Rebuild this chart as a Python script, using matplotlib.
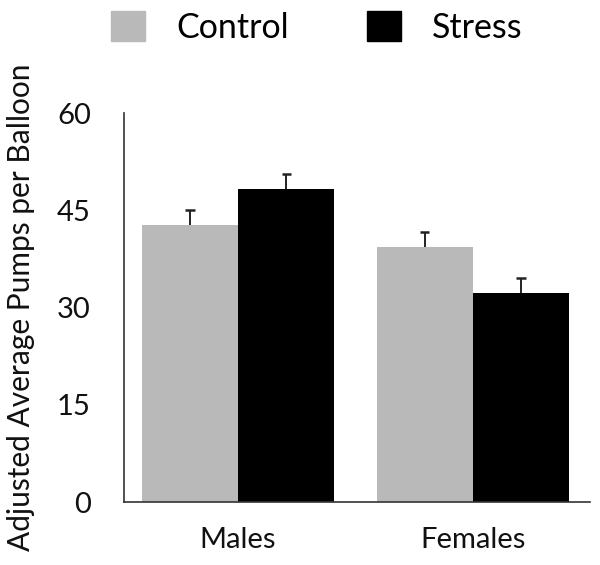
import numpy as np
import matplotlib
matplotlib.use("Agg")
import matplotlib.pyplot as plt
from matplotlib.patches import Patch

plt.rcParams["font.family"] = ["Lato", "DejaVu Sans"]

# Data
groups = ["Males", "Females"]
control = [42.7, 39.4]
stress = [48.3, 32.3]
control_err = [2.3, 2.3]
stress_err = [2.3, 2.3]
yticks = [0, 15, 30, 45, 60]

fig = plt.figure(figsize=(6, 5.65), dpi=100)
ax = fig.add_axes([0.207, 0.1115, 0.776, 0.6885])

x = np.arange(len(groups))
w = 0.41
ax.bar(x - w / 2, control, w, color="#b9b9b9")
ax.bar(x + w / 2, stress, w, color="black")

# upper-only error bars with a single cap
for pos, vals, errs in [(x - w / 2, control, control_err), (x + w / 2, stress, stress_err)]:
    tops = np.array(vals) + np.array(errs)
    ax.vlines(pos, vals, tops, color="#222222", lw=1.4, zorder=3)
    ax.hlines(tops, pos - 0.02, pos + 0.02, color="#222222", lw=1.8, zorder=3)

ax.set_xlim(-0.485, 1.498)
ax.set_ylim(0, 60)
ax.set_yticks(yticks)
ax.set_xticks(x)
ax.set_xticklabels(groups)
ax.tick_params(axis="both", length=0, labelsize=21, colors="#111111")
ax.tick_params(axis="y", pad=24)
ax.tick_params(axis="x", pad=18)
for s in ["top", "right"]:
    ax.spines[s].set_visible(False)
for s in ["left", "bottom"]:
    ax.spines[s].set_color("#333333")
    ax.spines[s].set_linewidth(1.2)

ax.set_ylabel("Adjusted Average Pumps per Balloon", fontsize=21.5,
              color="#111111", labelpad=16)

handles = [Patch(color="#b9b9b9"), Patch(color="black")]
fig.legend(handles, ["Control", "Stress"], loc="upper center",
           bbox_to_anchor=(0.528, 1.035), ncol=2, frameon=False, fontsize=24.5,
           handlelength=1.0, handleheight=1.0, handletextpad=0.9,
           columnspacing=2.3)

fig.savefig("out.png", dpi=100)
